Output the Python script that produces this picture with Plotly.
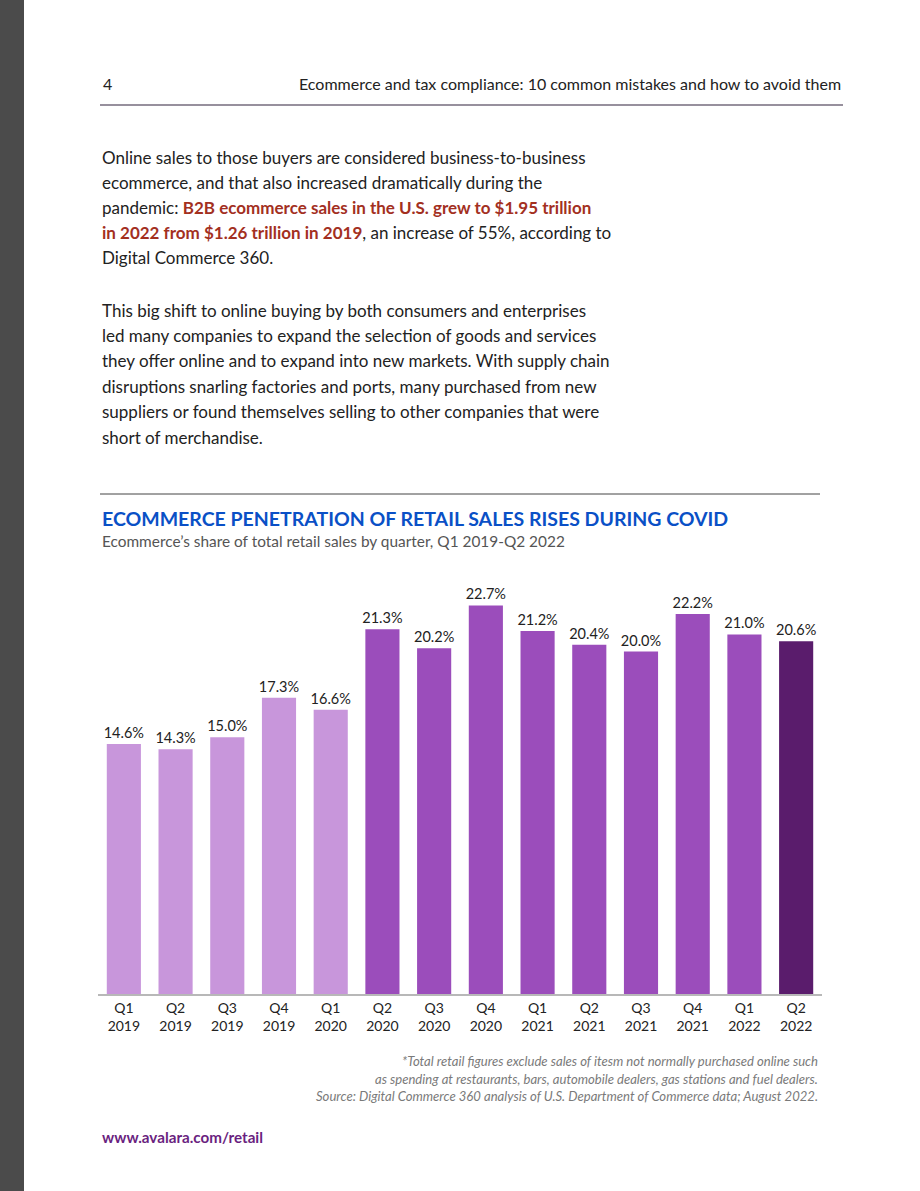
import plotly.graph_objects as go

# ---- data ----
quarters = ["Q1", "Q2", "Q3", "Q4", "Q1", "Q2", "Q3", "Q4", "Q1", "Q2", "Q3", "Q4", "Q1", "Q2"]
years = ["2019", "2019", "2019", "2019", "2020", "2020", "2020", "2020",
         "2021", "2021", "2021", "2021", "2022", "2022"]
share_pct = [14.6, 14.3, 15.0, 17.3, 16.6, 21.3, 20.2, 22.7, 21.2, 20.4, 20.0, 22.2, 21.0, 20.6]
value_labels = ["14.6%", "14.3%", "15.0%", "17.3%", "16.6%", "21.3%", "20.2%", "22.7%",
                "21.2%", "20.4%", "20.0%", "22.2%", "21.0%", "20.6%"]

# ---- styles ----
LIGHT, MID, DARK = "#c896db", "#9b4dbb", "#5a1c6c"
bar_colors = [LIGHT] * 5 + [MID] * 8 + [DARK]
FONT = "Lato"

W, H = 920, 1191
L, R, T, B = 98, 822, 566, 994  # plot area in pixels

def px(x):
    return (x - L) / (R - L)

def py(y):
    return (B - y) / (B - T)

cats = [f"{q}<br>{y}" for q, y in zip(quarters, years)]

fig = go.Figure()
fig.add_trace(go.Bar(
    x=cats, y=share_pct,
    marker=dict(color=bar_colors, line=dict(width=0)),
    text=value_labels, textposition="outside", cliponaxis=False,
    constraintext="none",
    textfont=dict(family=FONT, size=14.5, color="#222222"),
    hoverinfo="skip",
))

fig.update_layout(
    width=W, height=H,
    margin=dict(l=L, r=W - R, t=T, b=H - B),
    paper_bgcolor="white", plot_bgcolor="white",
    bargap=0.34, showlegend=False,
    xaxis=dict(showline=True, linecolor="#b8b8b8", linewidth=1.5,
               tickfont=dict(family=FONT, size=14, color="#222222"),
               ticks="", showgrid=False, fixedrange=True),
    yaxis=dict(range=[0, 25], visible=False, showgrid=False, fixedrange=True),
    font=dict(family=FONT),
)

ann = []
def text(x, y, s, size, color="#222222", xanchor="left", family=FONT):
    ann.append(dict(x=px(x), y=py(y), xref="paper", yref="paper", text=s,
                    showarrow=False, xanchor=xanchor, yanchor="middle",
                    font=dict(family=family, size=size, color=color)))

# header
text(101, 83, "4", 16)
text(843, 83, "Ecommerce and tax compliance: 10 common mistakes and how to avoid them", 16, xanchor="right")

RED = "#a3301f"
para1 = [
    "Online sales to those buyers are considered business-to-business",
    "ecommerce, and that also increased dramatically during the",
    f"pandemic: <b><span style='color:{RED}'>B2B ecommerce sales in the U.S. grew to $1.95 trillion</span></b>",
    f"<b><span style='color:{RED}'>in 2022 from $1.26 trillion in 2019</span></b>, an increase of 55%, according to",
    "Digital Commerce 360.",
]
for i, s in enumerate(para1):
    text(100, 157 + i * 25.2, s, 17)

para2 = [
    "This big shift to online buying by both consumers and enterprises",
    "led many companies to expand the selection of goods and services",
    "they offer online and to expand into new markets. With supply chain",
    "disruptions snarling factories and ports, many purchased from new",
    "suppliers or found themselves selling to other companies that were",
    "short of merchandise.",
]
for i, s in enumerate(para2):
    text(100, 310 + i * 25.4, s, 17)

text(100, 518, "<b>ECOMMERCE PENETRATION OF RETAIL SALES RISES DURING COVID</b>", 19.5, color="#0a50c6")
text(100, 541, "Ecommerce’s share of total retail sales by quarter, Q1 2019-Q2 2022", 15.4, color="#555555")

foot = [
    "*Total retail figures exclude sales of itesm not normally purchased online such",
    "as spending at restaurants, bars, automobile dealers, gas stations and fuel dealers.",
    "Source: Digital Commerce 360 analysis of U.S. Department of Commerce data; August 2022.",
]
for i, s in enumerate(foot):
    text(820, 1061 + i * 17.7, f"<i>{s}</i>", 13.1, color="#7a7a7a", xanchor="right")

text(100, 1137, "<b>www.avalara.com/retail</b>", 15.2, color="#6a1f80")

fig.update_layout(annotations=ann)

shapes = [
    # left dark strip
    dict(type="rect", xref="paper", yref="paper", x0=px(0), x1=px(24), y0=py(H), y1=py(0),
         fillcolor="#4b4b4b", line=dict(width=0), layer="below"),
    # header rule
    dict(type="line", xref="paper", yref="paper", x0=px(100), x1=px(843), y0=py(105), y1=py(105),
         line=dict(color="#756b7d", width=1.5)),
    # chart separator
    dict(type="line", xref="paper", yref="paper", x0=px(100), x1=px(820), y0=py(494), y1=py(494),
         line=dict(color="#444444", width=1)),
]
fig.update_layout(shapes=shapes)

fig.write_html("out.html", config={"displayModeBar": False},
               post_script="document.body.style.margin='0';document.body.style.overflow='hidden';")
